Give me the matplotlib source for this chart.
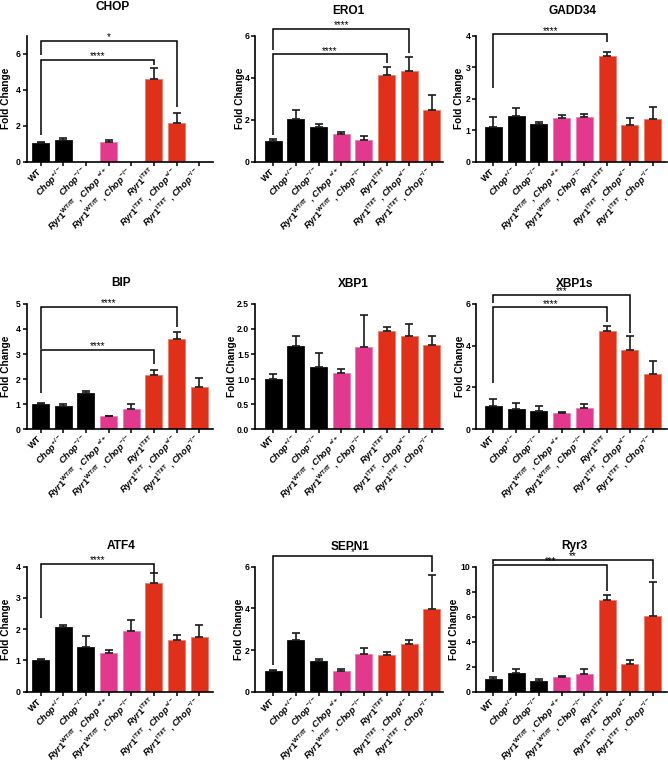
import numpy as np
import matplotlib
matplotlib.use("Agg")
import matplotlib.pyplot as plt

plt.rcParams['font.family'] = ['Liberation Sans', 'DejaVu Sans']
plt.rcParams['font.weight'] = 'bold'
plt.rcParams['mathtext.fontset'] = 'custom'
plt.rcParams['mathtext.rm'] = 'Liberation Sans:bold'
plt.rcParams['mathtext.it'] = 'Liberation Sans:italic:bold'
plt.rcParams['mathtext.bf'] = 'Liberation Sans:bold'
plt.rcParams['mathtext.sf'] = 'Liberation Sans:bold'

nan = np.nan
groups = [
    "WT",
    r"$\mathit{Chop}^{\mathrm{+/-}}$",
    r"$\mathit{Chop}^{\mathrm{-/-}}$",
    r"$\mathit{Ryr1}^{\mathrm{WT/IT}}$ , $\mathit{Chop}^{\ \mathrm{+/+}}$",
    r"$\mathit{Ryr1}^{\mathrm{WT/IT}}$ , $\mathit{Chop}^{\mathrm{-/-}}$",
    r"$\mathit{Ryr1}^{\mathrm{IT/IT}}$",
    r"$\mathit{Ryr1}^{\mathrm{IT/IT}}$ , $\mathit{Chop}^{\mathrm{+/-}}$",
    r"$\mathit{Ryr1}^{\mathrm{IT/IT}}$ , $\mathit{Chop}^{\mathrm{-/-}}$",
]

titles = ["CHOP", "ERO1", "GADD34", "BIP", "XBP1", "XBP1s", "ATF4", "SEPN1", "Ryr3"]

chop_mean = [1.02, 1.18, nan, 1.09, nan, 4.59, 2.17, nan]
chop_sem = [0.09, 0.12, nan, 0.09, nan, 0.60, 0.52, nan]
ero1_mean = [0.98, 2.05, 1.67, 1.30, 1.05, 4.13, 4.30, 2.46]
ero1_sem = [0.08, 0.39, 0.11, 0.10, 0.16, 0.36, 0.67, 0.71]
gadd34_mean = [1.11, 1.44, 1.21, 1.40, 1.43, 3.34, 1.16, 1.36]
gadd34_sem = [0.32, 0.27, 0.04, 0.07, 0.10, 0.14, 0.22, 0.39]
bip_mean = [0.99, 0.93, 1.43, 0.52, 0.81, 2.18, 3.61, 1.67]
bip_sem = [0.07, 0.08, 0.09, 0.02, 0.20, 0.20, 0.27, 0.38]
xbp1_mean = [1.00, 1.66, 1.24, 1.13, 1.63, 1.96, 1.86, 1.67]
xbp1_sem = [0.11, 0.20, 0.28, 0.08, 0.64, 0.07, 0.23, 0.18]
xbp1s_mean = [1.10, 0.98, 0.88, 0.77, 1.04, 4.72, 3.79, 2.62]
xbp1s_sem = [0.34, 0.27, 0.24, 0.08, 0.16, 0.22, 0.66, 0.64]
atf4_mean = [1.00, 2.08, 1.42, 1.25, 1.95, 3.47, 1.65, 1.75]
atf4_sem = [0.06, 0.06, 0.36, 0.07, 0.34, 0.32, 0.17, 0.37]
sepn1_mean = [0.99, 2.48, 1.47, 1.01, 1.82, 1.76, 2.29, 3.97]
sepn1_sem = [0.05, 0.32, 0.08, 0.06, 0.29, 0.14, 0.19, 1.65]
ryr3_mean = [0.98, 1.51, 0.88, 1.17, 1.43, 7.37, 2.20, 6.02]
ryr3_sem = [0.21, 0.32, 0.10, 0.05, 0.35, 0.35, 0.35, 2.79]

means = [chop_mean, ero1_mean, gadd34_mean, bip_mean, xbp1_mean,
         xbp1s_mean, atf4_mean, sepn1_mean, ryr3_mean]
sems = [chop_sem, ero1_sem, gadd34_sem, bip_sem, xbp1_sem,
        xbp1s_sem, atf4_sem, sepn1_sem, ryr3_sem]

yticks = [[0, 2, 4, 6], [0, 2, 4, 6], [0, 1, 2, 3, 4],
          [0, 1, 2, 3, 4, 5], [0.0, 0.5, 1.0, 1.5, 2.0, 2.5], [0, 2, 4, 6],
          [0, 1, 2, 3, 4], [0, 2, 4, 6], [0, 2, 4, 6, 8, 10]]
ytop = [7, 6, 4, 5, 2.5, 6, 4, 6, 10]

# significance brackets: (x1, x2, y, left leg end, right leg end, label)
brackets = [
    [(0, 5, 5.65, 1.50, 5.37, "****"), (0, 6, 6.72, 5.93, 3.06, "*")],
    [(0, 5, 5.11, 1.27, 4.71, "****"), (0, 6, 6.32, 5.32, 5.19, "****")],
    [(0, 5, 4.05, 2.33, 3.79, "****")],
    [(0, 5, 3.17, 1.43, 2.60, "****"), (0, 6, 4.87, 3.21, 4.07, "****")],
    [],
    [(0, 5, 5.84, 2.19, 5.15, "****"), (0, 6, 6.43, 6.03, 4.62, "***")],
    [(0, 5, 4.09, 2.35, 3.79, "****")],
    [(0, 7, 6.51, 1.28, 5.76, "*")],
    [(0, 5, 10.13, 1.59, 8.09, "***"), (0, 7, 10.56, 10.21, 9.02, "**")],
]

BLACK = "#000000"
PINK = "#E2388E"
RED = "#E1301A"
bar_colors = [BLACK, BLACK, BLACK, PINK, PINK, RED, RED, RED]
edge_colors = ["#111111", "#111111", "#111111", "#EE7AB5", "#EE7AB5", "#F07A66", "#F07A66", "#F07A66"]

W, H = 668, 766
fig = plt.figure(figsize=(W / 100, H / 100), dpi=100)

# column geometry in px: axis left, first bar center, last bar center, axis right
cols = [(26.5, 40.5, 199.3, 213.0), (255.5, 273.3, 431.8, 443.0), (476.5, 493.5, 652.5, 667.0)]
# row geometry in px: axis bottom, height
rows = [(161.7, 126.0), (429.3, 125.5), (691.7, 125.0)]
# title centers in px
title_pos = [(113, 7), (348.5, 10.7), (572.5, 10.5),
             (120.7, 283.3), (353, 284), (574.7, 284),
             (120.7, 545.7), (350.5, 546.7), (574, 546)]
ylabel_x = [5.8, 240, 459, 6.3, 231.7, 460, 6.3, 238.7, 454]

x = np.arange(8)
for i in range(9):
    r, c = divmod(i, 3)
    left, wt, last, right = cols[c]
    bot, h = rows[r]
    ax = fig.add_axes([left / W, 1 - bot / H, (right - left) / W, h / H])
    s = (last - wt) / 7
    ax.set_xlim(-(wt - left) / s, 7 + (right - last) / s)
    ax.set_ylim(0, ytop[i])

    m = np.array(means[i], dtype=float)
    e = np.array(sems[i], dtype=float)
    ax.bar(x, m, width=0.75, color=bar_colors, edgecolor=edge_colors, linewidth=0.6, zorder=2)
    for j in range(8):
        if np.isnan(m[j]):
            continue
        ax.errorbar(x[j], m[j], yerr=[[0], [e[j]]], fmt='none', ecolor="#1a1a1a",
                    elinewidth=1.2, capsize=3.2, capthick=1.2, zorder=3)

    for (x1, x2, yb, lb, rb, lab) in brackets[i]:
        ax.plot([x1, x1, x2, x2], [lb, yb, yb, rb], color='k', lw=1.1,
                clip_on=False, solid_joinstyle='miter', solid_capstyle='butt', zorder=4)
        ax.text((x1 + x2) / 2, yb + ytop[i] * 0.004, lab, ha='center', va='baseline',
                fontsize=7, fontweight='normal', clip_on=False)

    for sp in ['top', 'right']:
        ax.spines[sp].set_visible(False)
    for sp in ['left', 'bottom']:
        ax.spines[sp].set_linewidth(1.2)
    ax.set_yticks(yticks[i])
    if i == 4:
        ax.set_yticklabels([f"{v:.1f}" for v in yticks[i]])
    else:
        ax.set_yticklabels([f"{v:g}" for v in yticks[i]])
    ax.set_xticks(x)
    ax.set_xticklabels(groups, rotation=45, ha='right', va='center',
                       rotation_mode='anchor', fontsize=6.6, fontweight='bold')
    ax.tick_params(axis='x', length=3, width=1.1, pad=3)
    ax.tick_params(axis='y', length=3, width=1.1, pad=1.5, labelsize=6.2)
    for t in ax.get_yticklabels():
        t.set_fontweight('bold')

    ax.set_ylabel("Fold Change", fontsize=7.3, fontweight='bold', va='center')
    ax.yaxis.set_label_coords((ylabel_x[i] - left) / (right - left), 0.5)

    tx, ty = title_pos[i]
    fig.text(tx / W, 1 - ty / H, titles[i], ha='center', va='center',
             fontsize=8.6, fontweight='bold')

fig.savefig("out.png", dpi=100)
